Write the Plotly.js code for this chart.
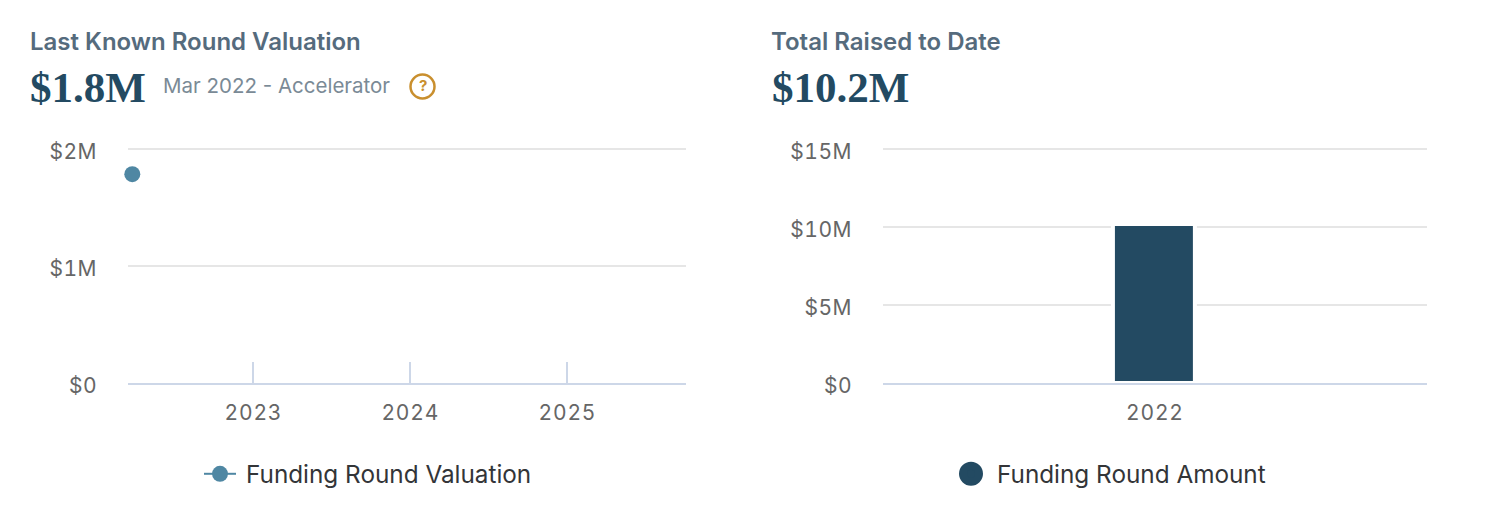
<!DOCTYPE html>
<html>
<head>
<meta charset="utf-8">
<script src="https://cdn.plot.ly/plotly-3.0.1.min.js"></script>
<style>
html,body{margin:0;padding:0;background:#fff;}
#chart{width:1498px;height:528px;}
.xtick text{letter-spacing:.8px;font-feature-settings:"tnum";}
.x2tick text{letter-spacing:.8px;font-feature-settings:"tnum";translate:1px 0;}
.ytick text,.y2tick text{letter-spacing:.5px;translate:0 2.5px;font-feature-settings:"tnum";}
.legend .scrollbox,.legend2 .scrollbox{clip-path:none !important;}
.legend text.legendtext{transform:translateX(5px);}
.legend2 path.scatterpts{stroke-width:8px !important;}
</style>
</head>
<body>
<div id="chart"></div>
<script>
var valuationDates = ['2022-03-25'];
var valuationValues = [1785000];
var amountYears = ['2022'];
var amountValues = [10200000];

var valuationTickVals = ['2023-01-01', '2024-01-01', '2025-01-01'];
var valuationTickText = ['2023', '2024', '2025'];
var valuationYTicks = [0, 1000000, 2000000];
var valuationYText = ['$0', '$1M', '$2M'];
var amountYTicks = [0, 5000000, 10000000, 15000000];
var amountYText = ['$0', '$5M', '$10M', '$15M'];

var W = 1498, H = 528;
var SANS = 'Inter, "Noto Sans", sans-serif';
var SERIF = '"Liberation Serif", serif';
var TICK = {family: SANS, size: 21, color: '#666666'};
var AXIS = '#cdd7e8', GRID = '#e6e6e6';
var TOP = 147, BASE = 383, SPAN = (BASE - TOP) / (BASE - 149);

function px(x){return x / W;}
function py(y){return 1 - y / H;}

function note(text, x, y, size, color, weight, family){
  return {text: text, xref: 'paper', yref: 'paper', x: px(x), y: py(y), xanchor: 'left', yanchor: 'middle',
    showarrow: false, font: {family: family || SANS, size: size, color: color, weight: weight || 400}};
}

var traces = [
  {type: 'scatter', mode: 'lines+markers', name: 'Funding Round Valuation', x: valuationDates, y: valuationValues,
   xaxis: 'x', yaxis: 'y', cliponaxis: false, legend: 'legend',
   marker: {color: '#4f87a3', size: 16}, line: {color: '#4f87a3', width: 2}},
  {type: 'bar', name: 'Funding Round Amount', x: amountYears, y: amountValues, xaxis: 'x2', yaxis: 'y2',
   width: 0.1507, showlegend: false, marker: {color: '#234a62', line: {color: '#ffffff', width: 4}}},
  {type: 'scatter', mode: 'markers', name: 'Funding Round Amount', x: [null], y: [null], xaxis: 'x2', yaxis: 'y2',
   legend: 'legend2', marker: {color: '#234a62', size: 16, line: {color: '#234a62', width: 5}}}
];

var layout = {
  width: W, height: H, margin: {l: 0, r: 0, t: 0, b: 0},
  paper_bgcolor: '#fff', plot_bgcolor: '#fff', showlegend: true, bargap: 0,
  font: {family: SANS},
  xaxis: {type: 'date', domain: [px(128), px(686)], range: ['2022-03-15', '2025-10-04'], anchor: 'y',
    tickmode: 'array', tickvals: valuationTickVals, ticktext: valuationTickText, tickfont: TICK,
    ticks: 'inside', ticklen: 21, tickwidth: 2, tickcolor: AXIS, showgrid: false, zeroline: false,
    showline: true, linecolor: AXIS, linewidth: 2, ticklabelstandoff: 10},
  yaxis: {domain: [py(BASE), py(TOP)], range: [0, 2000000 * SPAN], anchor: 'x', tickmode: 'array',
    tickvals: valuationYTicks, ticktext: valuationYText, tickfont: TICK, gridcolor: GRID, gridwidth: 2,
    zeroline: false, showline: false, ticks: '', ticklabelstandoff: 30},
  xaxis2: {type: 'category', domain: [px(883), px(1427)], range: [-0.498, 0.502], anchor: 'y2', tickfont: TICK,
    ticks: '', showgrid: false, zeroline: false, showline: true, linecolor: AXIS, linewidth: 2, ticklabelstandoff: 10},
  yaxis2: {domain: [py(BASE), py(TOP)], range: [0, 15000000 * SPAN], anchor: 'x2', tickmode: 'array',
    tickvals: amountYTicks, ticktext: amountYText, tickfont: TICK, gridcolor: GRID, gridwidth: 2,
    zeroline: false, showline: false, ticks: '', ticklabelstandoff: 30},
  legend: {x: px(199), y: py(474), xanchor: 'left', yanchor: 'middle', orientation: 'h', bgcolor: 'rgba(0,0,0,0)',
    itemwidth: 32, font: {family: SANS, size: 24.3, color: '#333538'}},
  legend2: {x: px(945), y: py(474), xanchor: 'left', yanchor: 'middle', orientation: 'h', bgcolor: 'rgba(0,0,0,0)',
    itemwidth: 42, font: {family: SANS, size: 24.3, color: '#333538'}},
  shapes: [
    {type: 'circle', xref: 'paper', yref: 'paper', x0: px(410.5), x1: px(434.5), y0: py(74.5), y1: py(98.5),
     line: {color: '#c98f2e', width: 2.5}, fillcolor: 'rgba(0,0,0,0)'}
  ],
  annotations: [
    note('Last Known Round Valuation', 28, 41.5, 24, '#556b7d', 600),
    note('$1.8M', 28, 88, 43, '#234a62', 700, SERIF),
    note('Mar 2022 - Accelerator', 161, 86, 20.5, '#7a8a96', 400),
    {text: '?', xref: 'paper', yref: 'paper', x: px(422.5), y: py(86), xanchor: 'center', yanchor: 'middle', showarrow: false,
     font: {family: SANS, size: 15, color: '#c98f2e', weight: 700}},
    note('Total Raised to Date', 769, 41.5, 24, '#556b7d', 600),
    note('$10.2M', 770, 88, 43, '#234a62', 700, SERIF)
  ]
};

Plotly.newPlot('chart', traces, layout, {displayModeBar: false, staticPlot: true});
</script>
</body>
</html>
